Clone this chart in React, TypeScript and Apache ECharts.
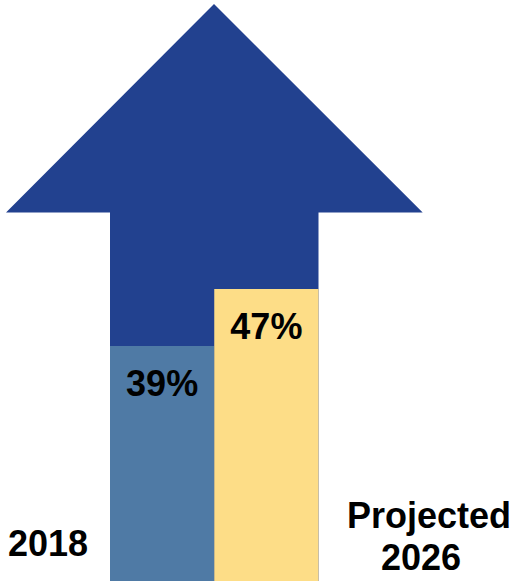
import React, { useEffect, useRef } from "react";
import * as echarts from "echarts";

const categories = ["2018", "Projected 2026"];
const values = [39, 47];
const valueLabels = ["39%", "47%"];
const barColors = ["#4f7aa5", "#fddd87"];

const FONT = "'Liberation Sans', Arial, Helvetica, sans-serif";

export default function App() {
  const ref = useRef<HTMLDivElement>(null);
  useEffect(() => {
    if (!ref.current) return;
    const chart = echarts.init(ref.current, null, { renderer: "svg" });
    chart.setOption({
      animation: false,
      grid: { left: 110, right: 197.5, top: 4, bottom: 3, containLabel: false },
      xAxis: {
        type: "category",
        data: categories,
        axisLine: { show: false },
        axisTick: { show: false },
        axisLabel: { show: false },
      },
      yAxis: {
        type: "value",
        min: 6,
        max: 87,
        show: false,
        splitLine: { show: false },
      },
      graphic: [
        {
          type: "polygon",
          z: 0,
          silent: true,
          shape: {
            points: [
              [214, 4],
              [422.7, 212.5],
              [318.5, 212.5],
              [318.5, 581],
              [110, 581],
              [110, 212.5],
              [6, 212.5],
            ],
          },
          style: { fill: "#22418f" },
        },
        {
          type: "text",
          z: 10,
          x: 8,
          y: 525,
          style: {
            text: "2018",
            font: `bold 36px ${FONT}`,
            fill: "#000",
          },
        },
        {
          type: "text",
          z: 10,
          x: 429,
          y: 497,
          style: {
            text: "Projected",
            font: `bold 36px ${FONT}`,
            fill: "#000",
            align: "center",
          },
        },
        {
          type: "text",
          z: 10,
          x: 421,
          y: 539,
          style: {
            text: "2026",
            font: `bold 36px ${FONT}`,
            fill: "#000",
            align: "center",
          },
        },
      ],
      series: [
        {
          type: "bar",
          z: 2,
          barCategoryGap: "0%",
          data: values.map((v, i) => ({
            value: v,
            itemStyle: { color: barColors[i] },
            label: { formatter: valueLabels[i] },
          })),
          label: {
            show: true,
            position: "insideTop",
            distance: 20,
            color: "#000",
            fontFamily: FONT,
            fontWeight: "bold",
            fontSize: 36,
          },
        },
      ],
    });
    return () => chart.dispose();
  }, []);
  return (
    <div
      ref={ref}
      style={{ position: "absolute", left: 0, top: 0, width: 516, height: 584 }}
    />
  );
}
